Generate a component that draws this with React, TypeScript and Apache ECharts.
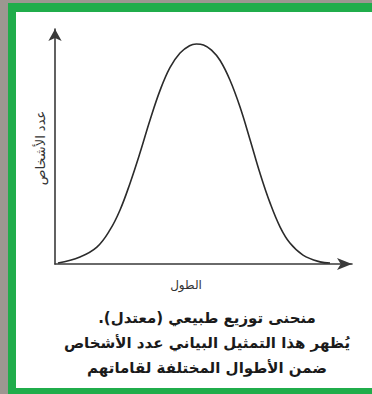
import React, { useEffect, useRef } from "react";
import * as echarts from "echarts";

// Curve (height on x, number of people on y, arbitrary units 0–100)
const heightValues = [1, 8.4, 14.1, 18.5, 21.9, 25.3, 28.6, 32, 35.4, 38.7, 42.1, 45.3, 47.6, 50, 52.7, 55.6, 58.9, 62.3, 65.7, 69, 72.4, 75.8, 79.1, 83.5, 89.2, 92.6];
const peopleCounts = [0.4, 3, 7.2, 14.5, 23, 34.5, 47.2, 61.3, 74, 83.6, 89.8, 92.9, 93.6, 93.2, 91, 86.6, 78.3, 66.8, 52.8, 38.7, 26, 15.7, 8.9, 3.8, 0.9, 0.4];

const xAxisName = "الطول";
const yAxisName = "عدد الأشخاص";
const captionLines = [
  "منحنى توزيع طبيعي (معتدل).\u200F",
  "يُظهر هذا التمثيل البياني عدد الأشخاص",
  "ضمن الأطوال المختلفة لقاماتهم",
];

const FONT = "'DejaVu Sans', sans-serif";

export default function App() {
  const ref = useRef<HTMLDivElement>(null);
  useEffect(() => {
    if (!ref.current) return;
    const chart = echarts.init(ref.current, null, { renderer: "svg" });
    const data = heightValues.map((x, i) => [x, peopleCounts[i]]);
    chart.setOption({
      animation: false,
      backgroundColor: "#9d9791",
      grid: { left: 55, right: 20, top: 29, bottom: 130 },
      xAxis: {
        type: "value",
        min: 0,
        max: 100,
        axisLine: {
          show: true,
          symbol: ["none", "arrow"],
          symbolSize: [9, 15],
          lineStyle: { color: "#3a3a3a", width: 1.6 },
        },
        axisTick: { show: false },
        axisLabel: { show: false },
        splitLine: { show: false },
      },
      yAxis: {
        type: "value",
        min: 0,
        max: 100,
        axisLine: {
          show: true,
          symbol: ["none", "arrow"],
          symbolSize: [10, 12],
          lineStyle: { color: "#3a3a3a", width: 1.6 },
        },
        axisTick: { show: false },
        axisLabel: { show: false },
        splitLine: { show: false },
      },
      graphic: [
        { type: "rect", z: -20, shape: { x: 8, y: 3, width: 364, height: 391 }, style: { fill: "#20ad4b" } },
        { type: "rect", z: -19, shape: { x: 16, y: 12, width: 356, height: 376 }, style: { fill: "#ffffff" } },
        {
          type: "text",
          z: 10,
          x: 40,
          y: 148,
          rotation: Math.PI / 2,
          style: { text: yAxisName, font: `13px ${FONT}`, fill: "#333", align: "center", verticalAlign: "middle" },
        },
        {
          type: "text",
          z: 10,
          x: 186,
          y: 285,
          style: { text: xAxisName, font: `12px ${FONT}`, fill: "#333", align: "center", verticalAlign: "middle" },
        },
        ...captionLines.map((t, i) => ({
          type: "text",
          z: 10,
          x: 207,
          y: 318 + i * 25,
          style: {
            text: t,
            font: `bold 15px ${FONT}`,
            fill: "#1a1a1a",
            align: "center",
            verticalAlign: "middle",
          },
        })),
      ],
      series: [
        {
          type: "line",
          data,
          smooth: 0.4,
          symbol: "none",
          lineStyle: { color: "#2b2b2b", width: 1.6 },
        },
      ],
    });
    return () => chart.dispose();
  }, []);
  return <div ref={ref} style={{ position: "absolute", left: 0, top: 0, width: 372, height: 394 }} />;
}
